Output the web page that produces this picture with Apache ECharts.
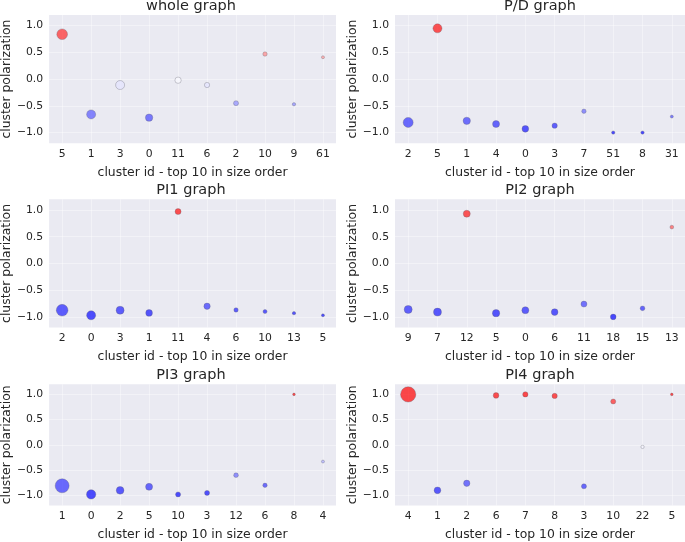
<!DOCTYPE html>
<html>
<head>
<meta charset="utf-8">
<script src="https://cdn.jsdelivr.net/npm/echarts@6/dist/echarts.min.js"></script>
<style>
html,body{margin:0;padding:0;background:#fff;}
#chart{width:685px;height:542px;}
</style>
</head>
<body>
<div id="chart"></div>
<script>
// ---- data ----
const panelTitles = ['whole graph', 'P/D graph', 'PI1 graph', 'PI2 graph', 'PI3 graph', 'PI4 graph'];

const wholeIds = ['5', '1', '3', '0', '11', '6', '2', '10', '9', '61'];
const wholePol = [0.84, -0.66, -0.11, -0.72, -0.02, -0.11, -0.45, 0.47, -0.47, 0.41];
const wholeSize = [114, 81, 81, 54, 40, 28, 25, 19, 11, 9];

const pdIds = ['2', '5', '1', '4', '0', '3', '7', '51', '8', '31'];
const pdPol = [-0.81, 0.95, -0.78, -0.84, -0.93, -0.87, -0.60, -1.0, -1.0, -0.70];
const pdSize = [100, 81, 54, 49, 45, 28, 19, 11, 11, 9];

const pi1Ids = ['2', '0', '3', '1', '11', '4', '6', '10', '13', '5'];
const pi1Pol = [-0.875, -0.97, -0.875, -0.925, 0.97, -0.80, -0.87, -0.90, -0.93, -0.97];
const pi1Size = [137, 81, 64, 45, 36, 40, 19, 16, 11, 9];

const pi2Ids = ['9', '7', '12', '5', '0', '6', '11', '18', '15', '13'];
const pi2Pol = [-0.86, -0.91, 0.93, -0.93, -0.875, -0.91, -0.76, -1.0, -0.84, 0.68];
const pi2Size = [64, 64, 49, 54, 49, 45, 36, 32, 22, 14];

const pi3Ids = ['1', '0', '2', '5', '10', '3', '12', '6', '8', '4'];
const pi3Pol = [-0.81, -0.98, -0.90, -0.83, -0.98, -0.95, -0.60, -0.80, 1.0, -0.33];
const pi3Size = [196, 87, 59, 49, 25, 25, 22, 19, 7, 9];

const pi4Ids = ['4', '1', '2', '6', '7', '8', '3', '10', '22', '5'];
const pi4Pol = [1.0, -0.90, -0.76, 0.98, 1.0, 0.97, -0.82, 0.86, -0.04, 1.0];
const pi4Size = [234, 45, 40, 32, 28, 28, 25, 25, 11, 7];

const yTicks = [-1.0, -0.5, 0.0, 0.5, 1.0];
const xTickIdx = [0, 1, 2, 3, 4, 5, 6, 7, 8, 9];
const xName = 'cluster id - top 10 in size order';
const yName = 'cluster polarization';

const panels = [
  [wholeIds, wholePol, wholeSize],
  [pdIds, pdPol, pdSize],
  [pi1Ids, pi1Pol, pi1Size],
  [pi2Ids, pi2Pol, pi2Size],
  [pi3Ids, pi3Pol, pi3Size],
  [pi4Ids, pi4Pol, pi4Size]
];

// ---- layout ----
const FONT = 'DejaVu Sans';
const TXT = '#262626';
const colLeft = [46, 395];
const rowTop = [15, 199.3, 384.3];
const plotW = 290;
const plotH = 128.3;
const GRIDLINE = 'rgba(255,255,255,0.4)';

const grids = [], xAxes = [], yAxes = [], series = [], titles = [];

panels.forEach((p, i) => {
  const col = i % 2, row = Math.floor(i / 2);
  const [ids, pol, size] = p;
  grids.push({left: colLeft[col], top: rowTop[row], width: plotW, height: plotH,
    show: true, backgroundColor: '#EAEAF2', borderWidth: 0});
  xAxes.push({
    type: 'value', gridIndex: i, min: -0.45, max: 9.45,
    name: xName, nameLocation: 'middle', nameGap: 23.5,
    nameTextStyle: {fontFamily: FONT, fontSize: 12.4, color: TXT},
    axisLine: {show: false},
    axisTick: {show: false, customValues: xTickIdx},
    splitLine: {show: true, customValues: xTickIdx, lineStyle: {color: GRIDLINE, width: 1}},
    axisLabel: {customValues: xTickIdx, margin: 5, fontFamily: FONT, fontSize: 10.8, color: TXT,
      formatter: (v) => ids[Math.round(v)]}
  });
  yAxes.push({
    type: 'value', gridIndex: i, min: -1.2, max: 1.2,
    name: yName, nameLocation: 'middle', nameGap: 31, nameRotate: 90,
    nameTextStyle: {fontFamily: FONT, fontSize: 12.4, color: TXT},
    axisLine: {show: false},
    axisTick: {show: false, customValues: yTicks},
    splitLine: {show: true, customValues: yTicks, lineStyle: {color: GRIDLINE, width: 1}},
    axisLabel: {customValues: yTicks, margin: 6, fontFamily: FONT, fontSize: 10.8, color: TXT,
      formatter: (v) => v.toFixed(1).replace('-', '\u2212')}
  });
  series.push({
    type: 'scatter', xAxisIndex: i, yAxisIndex: i,
    data: ids.map((id, k) => [k, pol[k], size[k]]),
    symbolSize: (v) => Math.sqrt(v[2]),
    itemStyle: {opacity: 0.7, borderColor: 'rgba(90,90,105,0.55)', borderWidth: 0.8}
  });
  titles.push({
    text: panelTitles[i],
    left: colLeft[col] + plotW / 2, top: rowTop[row] - 16.5,
    textAlign: 'center', padding: 0,
    textStyle: {fontFamily: FONT, fontSize: 14.5, fontWeight: 'normal', color: TXT}
  });
});

const chart = echarts.init(document.getElementById('chart'), null, {renderer: 'canvas'});
chart.setOption({
  animation: false,
  backgroundColor: '#ffffff',
  title: titles,
  grid: grids,
  xAxis: xAxes,
  yAxis: yAxes,
  visualMap: {
    type: 'continuous', show: false, min: -1, max: 1, dimension: 1,
    seriesIndex: [0, 1, 2, 3, 4, 5],
    inRange: {color: ['#0000ff', '#ffffff', '#ff0000']}
  },
  series: series
});
</script>
</body>
</html>
